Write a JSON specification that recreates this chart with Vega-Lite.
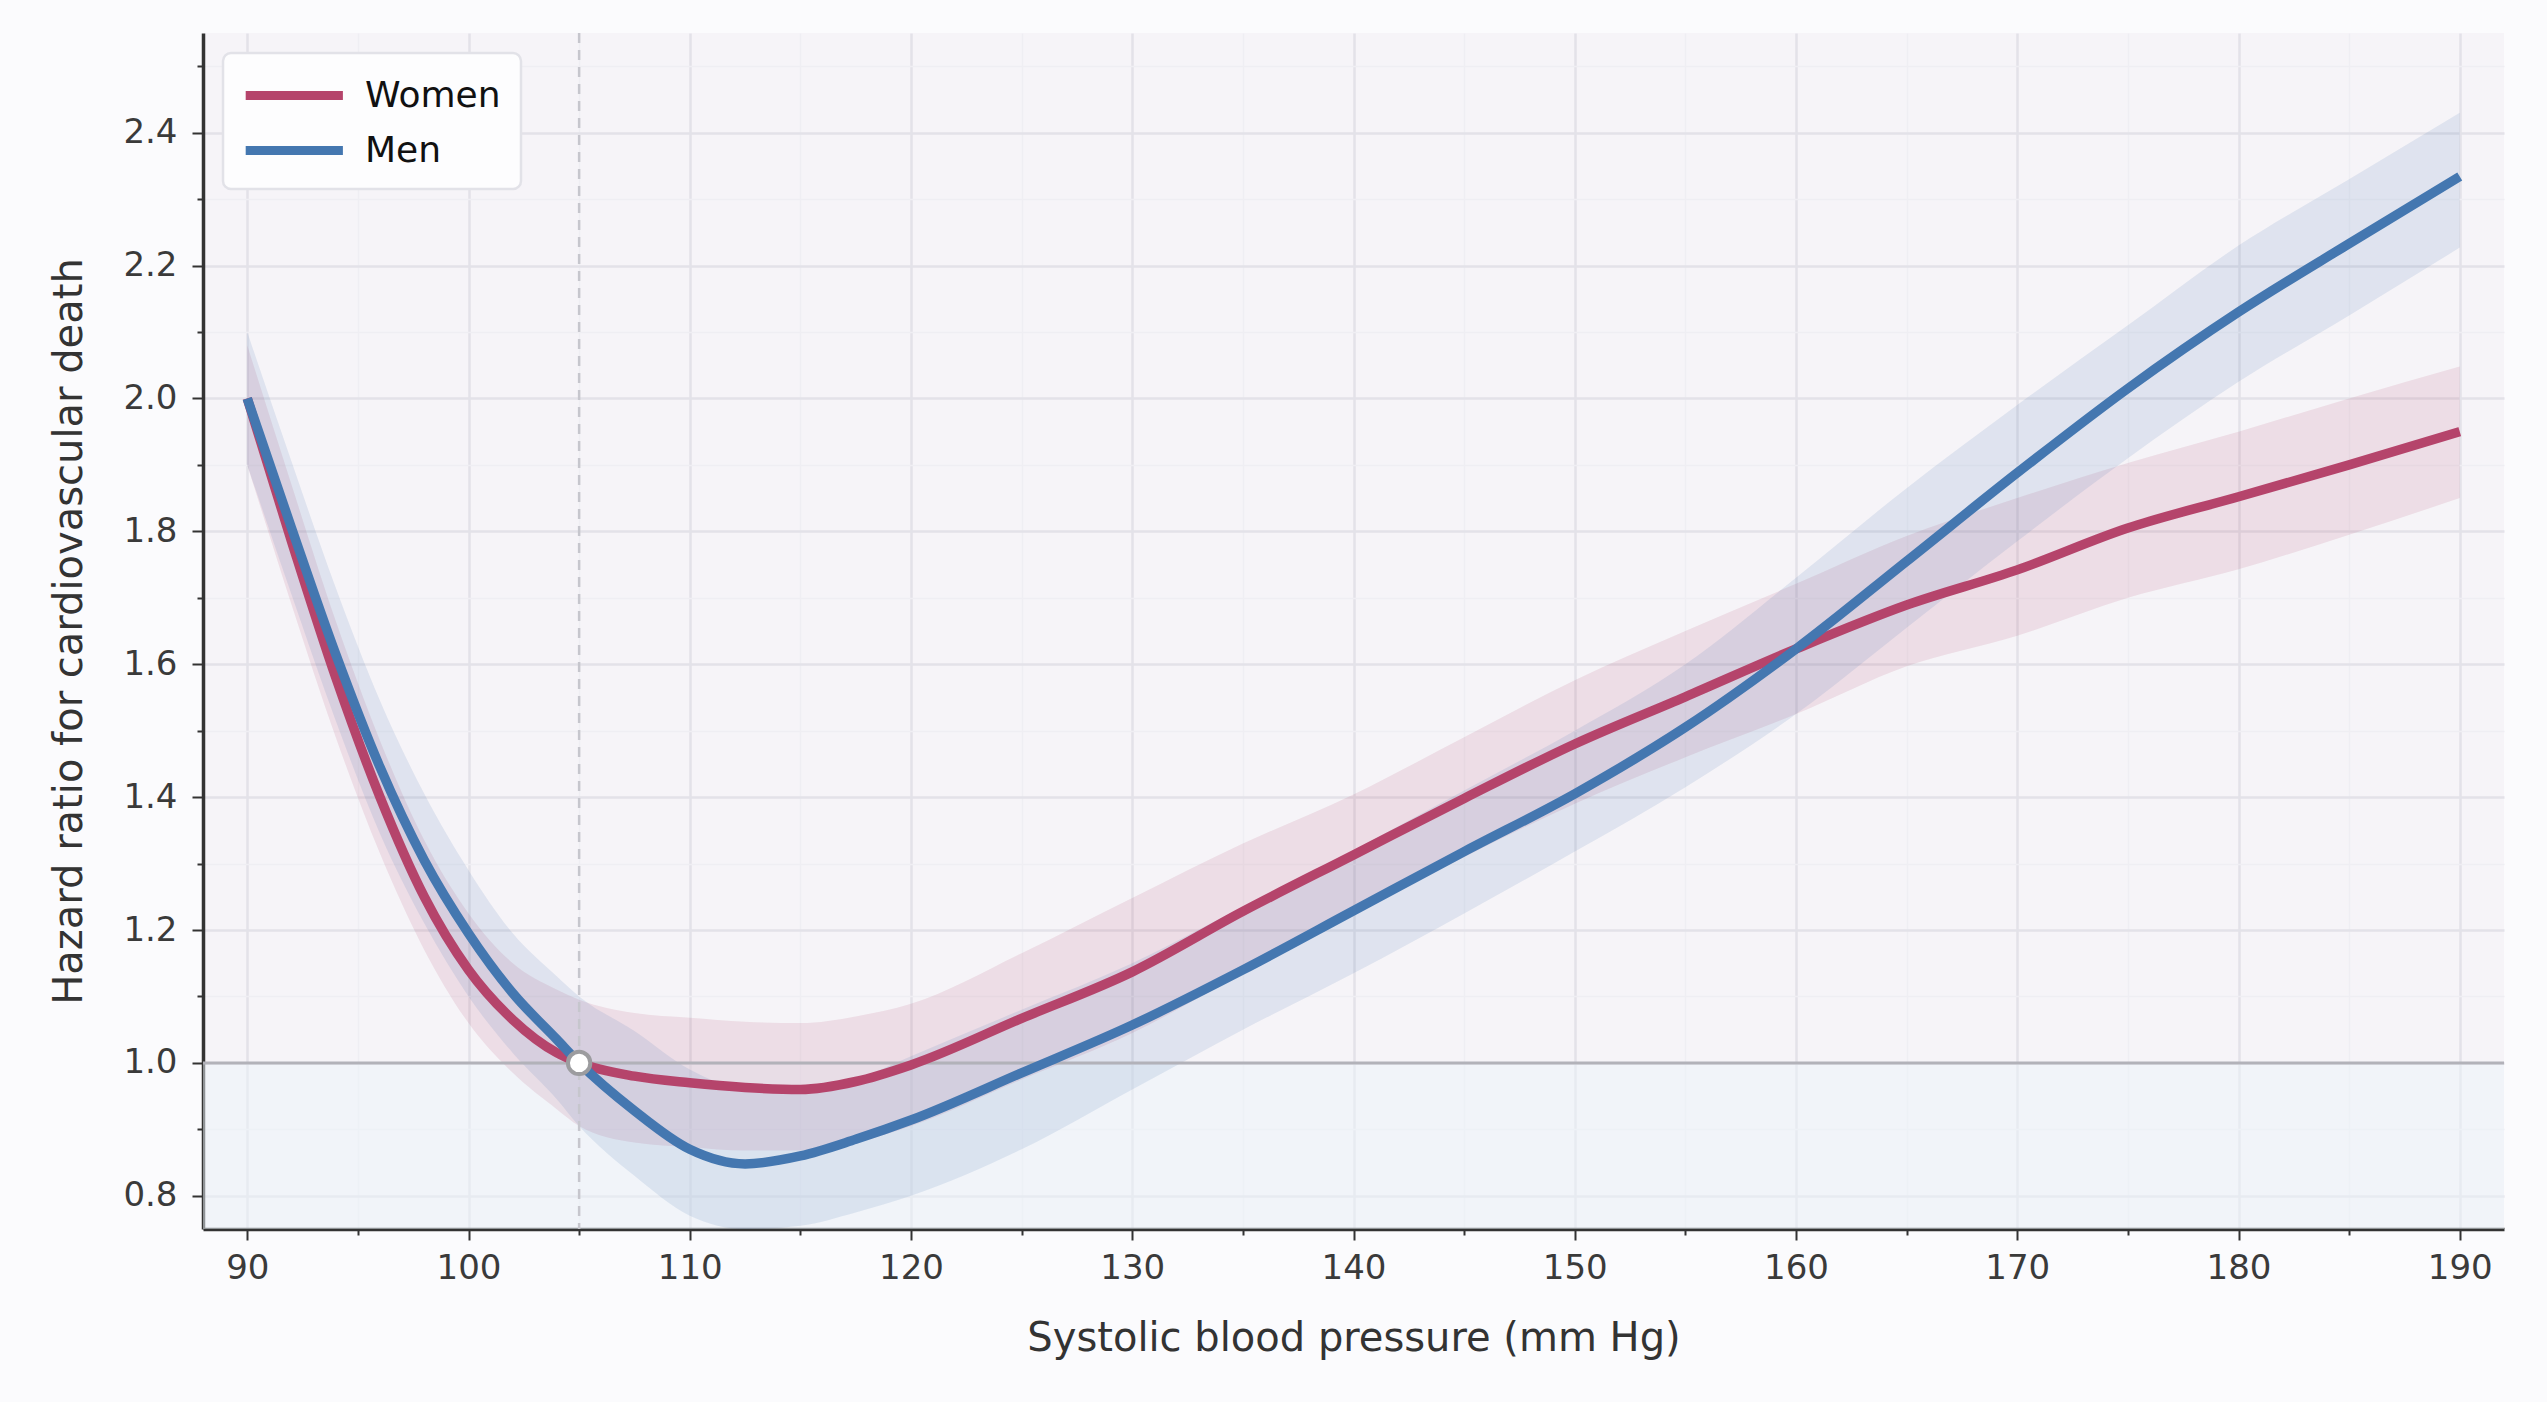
{
  "$schema": "https://vega.github.io/schema/vega-lite/v6.json",
  "description": "Hazard ratio for cardiovascular death by systolic blood pressure, women vs men.",
  "width": 2301,
  "height": 1196,
  "autosize": {"type": "none"},
  "padding": {"left": 203, "top": 33, "right": 43, "bottom": 173},
  "background": "#fbfbfd",
  "config": {
    "font": "DejaVu Sans",
    "view": {"fill": "#f6f4f8", "stroke": null},
    "axis": {
      "domainColor": "#333333",
      "domainWidth": 3.5,
      "tickColor": "#333333",
      "tickWidth": 2,
      "labelColor": "#3a3a3a",
      "labelFont": "DejaVu Sans",
      "labelFontSize": 34,
      "labelOverlap": false,
      "labelFlush": false,
      "titleColor": "#333333",
      "titleFont": "DejaVu Sans",
      "titleFontSize": 40,
      "titleFontWeight": "normal"
    },
    "legend": {
      "fillColor": "#fdfdfe",
      "strokeColor": "#e2e2e8",
      "strokeWidth": 2.5,
      "cornerRadius": 8,
      "padding": 20,
      "rowPadding": 14,
      "symbolType": "M-1.1,0L4.3,0",
      "symbolSize": 1296,
      "symbolStrokeWidth": 9,
      "labelFont": "DejaVu Sans",
      "labelFontSize": 36,
      "labelColor": "#111111",
      "labelOffset": 77
    }
  },
  "datasets": {
    "curves": [
      {"series": "Women", "sbp": 90, "hr": 2.0, "lo": 1.9, "hi": 2.08},
      {"series": "Women", "sbp": 92, "hr": 1.785, "lo": 1.69, "hi": 1.87},
      {"series": "Women", "sbp": 94, "hr": 1.58, "lo": 1.49, "hi": 1.665},
      {"series": "Women", "sbp": 96, "hr": 1.4, "lo": 1.315, "hi": 1.485},
      {"series": "Women", "sbp": 98, "hr": 1.25, "lo": 1.17, "hi": 1.335},
      {"series": "Women", "sbp": 100, "hr": 1.14, "lo": 1.06, "hi": 1.225},
      {"series": "Women", "sbp": 102, "hr": 1.065, "lo": 0.985, "hi": 1.15},
      {"series": "Women", "sbp": 104, "hr": 1.015, "lo": 0.93, "hi": 1.11},
      {"series": "Women", "sbp": 105, "hr": 1.0, "lo": 0.905, "hi": 1.095},
      {"series": "Women", "sbp": 107.5, "hr": 0.98, "lo": 0.88, "hi": 1.075},
      {"series": "Women", "sbp": 110, "hr": 0.97, "lo": 0.873, "hi": 1.068},
      {"series": "Women", "sbp": 112.5, "hr": 0.963, "lo": 0.868, "hi": 1.062},
      {"series": "Women", "sbp": 115, "hr": 0.96, "lo": 0.868, "hi": 1.06},
      {"series": "Women", "sbp": 117.5, "hr": 0.972, "lo": 0.88, "hi": 1.07},
      {"series": "Women", "sbp": 120, "hr": 0.997, "lo": 0.905, "hi": 1.089},
      {"series": "Women", "sbp": 125, "hr": 1.067, "lo": 0.975, "hi": 1.165},
      {"series": "Women", "sbp": 130, "hr": 1.137, "lo": 1.045, "hi": 1.248},
      {"series": "Women", "sbp": 135, "hr": 1.228, "lo": 1.135, "hi": 1.33},
      {"series": "Women", "sbp": 140, "hr": 1.313, "lo": 1.225, "hi": 1.404},
      {"series": "Women", "sbp": 145, "hr": 1.398, "lo": 1.31, "hi": 1.49},
      {"series": "Women", "sbp": 150, "hr": 1.48, "lo": 1.39, "hi": 1.576},
      {"series": "Women", "sbp": 155, "hr": 1.551, "lo": 1.46, "hi": 1.65},
      {"series": "Women", "sbp": 160, "hr": 1.623, "lo": 1.525, "hi": 1.721},
      {"series": "Women", "sbp": 165, "hr": 1.689, "lo": 1.597, "hi": 1.793},
      {"series": "Women", "sbp": 170, "hr": 1.742, "lo": 1.643, "hi": 1.85},
      {"series": "Women", "sbp": 175, "hr": 1.805, "lo": 1.7, "hi": 1.903},
      {"series": "Women", "sbp": 180, "hr": 1.852, "lo": 1.743, "hi": 1.95},
      {"series": "Women", "sbp": 185, "hr": 1.9, "lo": 1.795, "hi": 2.0},
      {"series": "Women", "sbp": 190, "hr": 1.95, "lo": 1.85, "hi": 2.048},
      {"series": "Men", "sbp": 90, "hr": 2.0, "lo": 1.9, "hi": 2.1},
      {"series": "Men", "sbp": 92, "hr": 1.805, "lo": 1.705, "hi": 1.905},
      {"series": "Men", "sbp": 94, "hr": 1.615, "lo": 1.515, "hi": 1.715},
      {"series": "Men", "sbp": 96, "hr": 1.445, "lo": 1.345, "hi": 1.545},
      {"series": "Men", "sbp": 98, "hr": 1.305, "lo": 1.21, "hi": 1.405},
      {"series": "Men", "sbp": 100, "hr": 1.195, "lo": 1.1, "hi": 1.29},
      {"series": "Men", "sbp": 102, "hr": 1.105, "lo": 1.015, "hi": 1.195},
      {"series": "Men", "sbp": 104, "hr": 1.035, "lo": 0.945, "hi": 1.13},
      {"series": "Men", "sbp": 105, "hr": 1.0, "lo": 0.905, "hi": 1.1},
      {"series": "Men", "sbp": 107.5, "hr": 0.928, "lo": 0.83, "hi": 1.048},
      {"series": "Men", "sbp": 110, "hr": 0.87, "lo": 0.77, "hi": 0.99},
      {"series": "Men", "sbp": 112.5, "hr": 0.848, "lo": 0.75, "hi": 0.96},
      {"series": "Men", "sbp": 115, "hr": 0.86, "lo": 0.755, "hi": 0.955},
      {"series": "Men", "sbp": 117.5, "hr": 0.885, "lo": 0.775, "hi": 0.975},
      {"series": "Men", "sbp": 120, "hr": 0.914, "lo": 0.8, "hi": 1.01},
      {"series": "Men", "sbp": 125, "hr": 0.985, "lo": 0.87, "hi": 1.08},
      {"series": "Men", "sbp": 130, "hr": 1.057, "lo": 0.96, "hi": 1.15},
      {"series": "Men", "sbp": 135, "hr": 1.14, "lo": 1.05, "hi": 1.235},
      {"series": "Men", "sbp": 140, "hr": 1.229, "lo": 1.135, "hi": 1.32},
      {"series": "Men", "sbp": 145, "hr": 1.318, "lo": 1.225, "hi": 1.41},
      {"series": "Men", "sbp": 150, "hr": 1.405, "lo": 1.318, "hi": 1.5},
      {"series": "Men", "sbp": 155, "hr": 1.505, "lo": 1.415, "hi": 1.6},
      {"series": "Men", "sbp": 160, "hr": 1.623, "lo": 1.525, "hi": 1.73},
      {"series": "Men", "sbp": 165, "hr": 1.755, "lo": 1.655, "hi": 1.865},
      {"series": "Men", "sbp": 170, "hr": 1.888, "lo": 1.785, "hi": 1.99},
      {"series": "Men", "sbp": 175, "hr": 2.015, "lo": 1.91, "hi": 2.11},
      {"series": "Men", "sbp": 180, "hr": 2.13, "lo": 2.025, "hi": 2.23},
      {"series": "Men", "sbp": 185, "hr": 2.233, "lo": 2.125, "hi": 2.33},
      {"series": "Men", "sbp": 190, "hr": 2.334, "lo": 2.227, "hi": 2.43}
    ]
  },
  "layer": [
    {
      "data": {"values": [{"sbp": 88, "sbp_end": 192, "hr": 0.75, "hr_end": 1.0}]},
      "mark": {"type": "rect", "color": "#ebf3fa", "opacity": 0.5},
      "encoding": {
        "x": {
          "field": "sbp", "type": "quantitative",
          "title": "Systolic blood pressure (mm Hg)",
          "scale": {"domain": [88, 192], "nice": false, "zero": false},
          "axis": {
            "values": [90, 95, 100, 105, 110, 115, 120, 125, 130, 135, 140, 145, 150, 155, 160, 165, 170, 175, 180, 185, 190],
            "labelExpr": "datum.value % 10 === 0 ? datum.label : ''",
            "tickSize": {"condition": {"test": "datum.value % 10 === 0", "value": 11}, "value": 6},
            "gridColor": {"condition": {"test": "datum.value % 10 === 0", "value": "#e3e2e9"}, "value": "#efeef3"},
            "gridWidth": {"condition": {"test": "datum.value % 10 === 0", "value": 2.5}, "value": 1.5},
            "labelPadding": 11,
            "titlePadding": 33
          }
        },
        "x2": {"field": "sbp_end"},
        "y": {
          "field": "hr", "type": "quantitative",
          "title": "Hazard ratio for cardiovascular death",
          "scale": {"domain": [0.75, 2.55], "nice": false, "zero": false},
          "axis": {
            "values": [0.8, 0.9, 1.0, 1.1, 1.2, 1.3, 1.4, 1.5, 1.6, 1.7, 1.8, 1.9, 2.0, 2.1, 2.2, 2.3, 2.4, 2.5],
            "labelExpr": "round(datum.value * 10) % 2 === 0 ? format(datum.value, '.1f') : ''",
            "tickSize": {"condition": {"test": "round(datum.value * 10) % 2 === 0", "value": 11}, "value": 6},
            "gridColor": {"condition": {"test": "round(datum.value * 10) % 2 === 0", "value": "#e3e2e9"}, "value": "#efeef3"},
            "gridWidth": {"condition": {"test": "round(datum.value * 10) % 2 === 0", "value": 2.5}, "value": 1.5},
            "labelPadding": 15,
            "titlePadding": 33
          }
        },
        "y2": {"field": "hr_end"}
      }
    },
    {
      "data": {"name": "curves"},
      "transform": [{"filter": "datum.series === 'Women'"}],
      "mark": {"type": "area", "interpolate": "monotone", "color": "#b5446b", "opacity": 0.13},
      "encoding": {
        "x": {"field": "sbp", "type": "quantitative", "title": "Systolic blood pressure (mm Hg)"},
        "y": {"field": "lo", "type": "quantitative", "title": "Hazard ratio for cardiovascular death"},
        "y2": {"field": "hi"}
      }
    },
    {
      "data": {"name": "curves"},
      "transform": [{"filter": "datum.series === 'Men'"}],
      "mark": {"type": "area", "interpolate": "monotone", "color": "#4477b0", "opacity": 0.13},
      "encoding": {
        "x": {"field": "sbp", "type": "quantitative", "title": "Systolic blood pressure (mm Hg)"},
        "y": {"field": "lo", "type": "quantitative", "title": "Hazard ratio for cardiovascular death"},
        "y2": {"field": "hi"}
      }
    },
    {
      "data": {"values": [{"hr": 1.0}]},
      "mark": {"type": "rule", "color": "#b2b2b9", "strokeWidth": 3},
      "encoding": {
        "y": {"field": "hr", "type": "quantitative", "title": "Hazard ratio for cardiovascular death"}
      }
    },
    {
      "data": {"values": [{"sbp": 105}]},
      "mark": {"type": "rule", "color": "#c6c6cd", "strokeWidth": 2.5, "strokeDash": [10, 7]},
      "encoding": {
        "x": {"field": "sbp", "type": "quantitative", "title": "Systolic blood pressure (mm Hg)"}
      }
    },
    {
      "data": {"name": "curves"},
      "mark": {"type": "line", "interpolate": "monotone", "strokeWidth": 9.5, "strokeCap": "butt"},
      "encoding": {
        "x": {"field": "sbp", "type": "quantitative", "title": "Systolic blood pressure (mm Hg)"},
        "y": {"field": "hr", "type": "quantitative", "title": "Hazard ratio for cardiovascular death"},
        "stroke": {
          "field": "series", "type": "nominal",
          "scale": {"domain": ["Women", "Men"], "range": ["#b5446b", "#4477b0"]},
          "legend": {"title": null, "orient": "none", "legendX": 20, "legendY": 20}
        }
      }
    },
    {
      "data": {"values": [{"sbp": 105, "hr": 1.0}]},
      "mark": {"type": "point", "shape": "circle", "filled": true, "fill": "#ffffff", "stroke": "#9c9c9f", "strokeWidth": 4, "size": 500, "opacity": 1},
      "encoding": {
        "x": {"field": "sbp", "type": "quantitative", "title": "Systolic blood pressure (mm Hg)"},
        "y": {"field": "hr", "type": "quantitative", "title": "Hazard ratio for cardiovascular death"}
      }
    }
  ]
}
